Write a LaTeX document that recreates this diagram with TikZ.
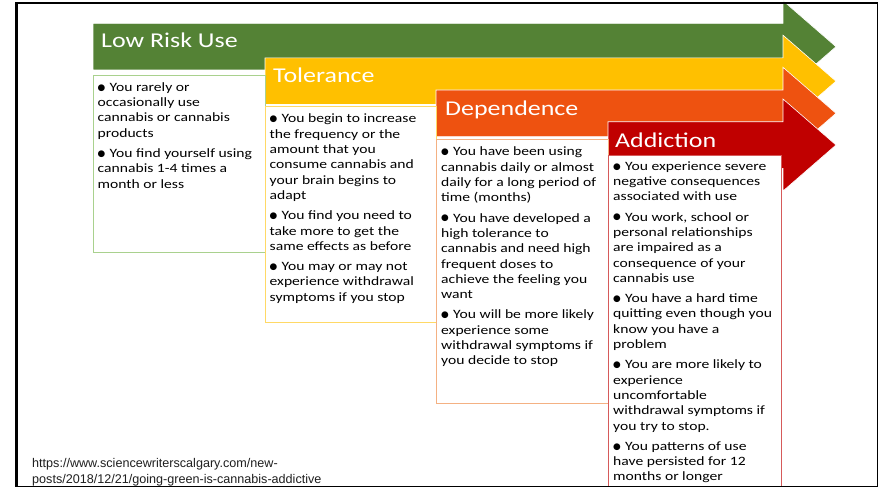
\documentclass[tikz,border=0pt]{standalone}
\usepackage{fontspec}
\setmainfont{Carlito}[FakeStretch=1.23]
\newfontfamily\urlfnt{Liberation Sans}
\newfontfamily\bulfnt{DejaVu Sans}
\definecolor{lrgreen}{HTML}{548235}
\definecolor{tolyellow}{HTML}{FFC000}
\definecolor{deporange}{HTML}{EE5210}
\definecolor{addred}{HTML}{C00000}
\definecolor{greenedge}{HTML}{A9D18E}
\definecolor{yellowedge}{HTML}{FFD966}
\definecolor{orangeedge}{HTML}{F4B183}
\definecolor{rededge}{HTML}{D65A5A}
\newcommand\bodyfnt{\fontsize{12.7}{15.3}\selectfont}
\newcommand\titlefnt{\fontsize{21.1}{24}\selectfont}
\newcommand\bul{\raisebox{1.2pt}{\bulfnt\fontsize{8.8}{8.8}\selectfont ●}\hspace{4.3pt}}
\tikzset{
  bandshape/.style={draw=white, line width=0.6pt},
  titletext/.style={anchor=base west, inner sep=0pt, text=white, font=\titlefnt},
  bodytext/.style={anchor=north west, inner sep=0pt, align=left, font=\bodyfnt},
  textbox/.style={line width=0.9pt, fill=white},
}
\begin{document}
\begin{tikzpicture}[x=1pt,y=-1pt]
\useasboundingbox (0,0) rectangle (879,487);
\fill[white] (0,0) rectangle (879,487);
% arrows
\filldraw[bandshape, fill=lrgreen] (93,23.4) -- (783,23.4) -- (783,0.7) -- (836,46.7) -- (783,92.7) -- (783,70) -- (93,70) -- cycle;
\filldraw[bandshape, fill=tolyellow] (265,57.9) -- (783,57.9) -- (783,35.2) -- (836,81.2) -- (783,127.2) -- (783,104.5) -- (265,104.5) -- cycle;
\filldraw[bandshape, fill=deporange] (436,90) -- (783,90) -- (783,67.3) -- (836,113.3) -- (783,159.3) -- (783,136.6) -- (436,136.6) -- cycle;
\filldraw[bandshape, fill=addred] (608,121.7) -- (783,121.7) -- (783,99) -- (836,145) -- (783,191) -- (783,168.3) -- (608,168.3) -- cycle;
% titles
\node[titletext] (t1) at (101,48) {Low Risk Use};
\node[titletext] (t2) at (273,83) {Tolerance};
\node[titletext] (t3) at (445,115) {Dependence};
\node[titletext] (t4) at (615,147) {Addiction};
% text boxes
\filldraw[textbox, draw=greenedge] (93,75) rectangle (265,252);
\filldraw[textbox, draw=yellowedge] (265,106) rectangle (436,322);
\filldraw[textbox, draw=orangeedge] (436,139) rectangle (608,403);
\filldraw[textbox, draw=rededge] (608,155) rectangle (781,492);
\node[bodytext] (b1) at (97.5,80.3) {\strut\bul You rarely or\\occasionally use\\cannabis or cannabis\\products\\[5pt]
\bul You find yourself using\\cannabis 1-4 times a\\month or less};
\node[bodytext] (b2) at (269.5,112) {\strut\bul You begin to increase\\the frequency or the\\amount that you\\consume cannabis and\\your brain begins to\\adapt\\[5pt]
\bul You find you need to\\take more to get the\\same effects as before\\[5pt]
\bul You may or may not\\experience withdrawal\\symptoms if you stop};
\node[bodytext] (b3) at (441,145) {\strut\bul You have been using\\cannabis daily or almost\\daily for a long period of\\time (months)\\[5pt]
\bul You have developed a\\high tolerance to\\cannabis and need high\\frequent doses to\\achieve the feeling you\\want\\[5pt]
\bul You will be more likely\\experience some\\withdrawal symptoms if\\you decide to stop};
\node[bodytext] (b4) at (613,159.3) {\strut\bul You experience severe\\negative consequences\\associated with use\\[5pt]
\bul You work, school or\\personal relationships\\are impaired as a\\consequence of your\\cannabis use\\[5pt]
\bul You have a hard time\\quitting even though you\\know you have a\\problem\\[5pt]
\bul You are more likely to\\experience\\uncomfortable\\withdrawal symptoms if\\you try to stop.\\[5pt]
\bul You patterns of use\\have persisted for 12\\months or longer};
% source
\node[anchor=north west, inner sep=0pt, align=left, text=black!88, font=\urlfnt\fontsize{12.6}{16}\selectfont] (src) at (32,455.8) {\strut https://www.sciencewriterscalgary.com/new-\\posts/2018/12/21/going-green-is-cannabis-addictive};
% frame
\draw[black, line width=1.3pt] (16,3) rectangle (877.5,486.3);
\draw[black, line width=3pt] (16,2.35) -- (16,486.9);
\end{tikzpicture}
\end{document}
